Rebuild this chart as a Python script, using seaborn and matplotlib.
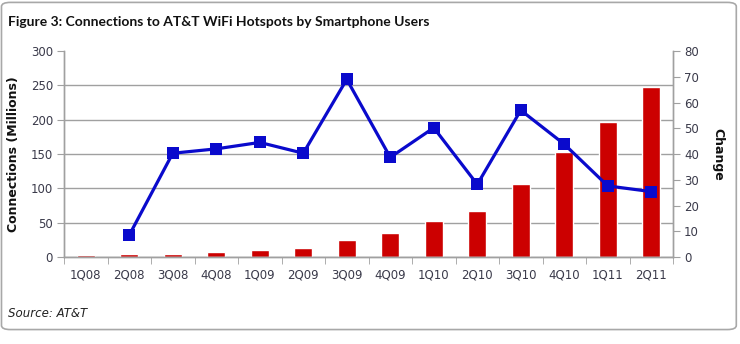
import numpy as np
import pandas as pd
import matplotlib
matplotlib.use("Agg")
import matplotlib.pyplot as plt
from matplotlib.patches import FancyBboxPatch
import seaborn as sns

quarters = ["1Q08", "2Q08", "3Q08", "4Q08", "1Q09", "2Q09", "3Q09", "4Q09",
            "1Q10", "2Q10", "3Q10", "4Q10", "1Q11", "2Q11"]
connections = [2.5, 4, 4, 7, 10, 13.5, 25, 34.5, 53, 67, 106, 153, 196, 248]
change = [np.nan, 8.5, 40.3, 42, 44.5, 40.3, 69, 38.7, 50.2, 28.2, 57, 43.8, 27.6, 25.4]
left_ticks = [0, 50, 100, 150, 200, 250, 300]
right_ticks = [0, 10, 20, 30, 40, 50, 60, 70, 80]

sns.set_style("white")
plt.rcParams["font.family"] = ["DejaVu Sans"]

df = pd.DataFrame({"quarter": quarters, "connections": connections,
                   "change": change, "pos": np.arange(len(quarters))})

fig = plt.figure(figsize=(7.4, 3.44), dpi=100)
ax = fig.add_axes([0.0865, 0.2529, 0.823, 0.5988])

tick_col = "#3a3a4a"
grid_col = "#a0a0a0"

sns.barplot(data=df, x="quarter", y="connections", color="#cc0000",
            saturation=1, width=0.42, ax=ax, zorder=2)
ax.set_ylim(0, 300)
ax.set_yticks(left_ticks)
ax.set_xlim(-0.5, len(quarters) - 0.5)
ax.yaxis.grid(True, color=grid_col, linewidth=1.0, zorder=0)
ax.set_axisbelow(True)
gl = ax.yaxis.get_gridlines()
gl[-1].set_visible(False)
ax.set_xlabel("")
ax.set_ylabel("Connections (Millions)", fontsize=9, fontweight="bold", color="#111111", labelpad=8)
ax.tick_params(axis="y", direction="out", length=5, color=grid_col, labelsize=8.5,
               labelcolor=tick_col, pad=3, left=True)
ax.tick_params(axis="x", which="major", length=0, labelsize=8.5, labelcolor=tick_col, pad=8)
ax.set_xticks(np.arange(-0.5, len(quarters), 1.0), minor=True)
ax.tick_params(axis="x", which="minor", direction="out", length=5, color=grid_col, bottom=True)

ax2 = ax.twinx()
sns.lineplot(data=df, x="pos", y="change", color="#0a0acc", linewidth=2.3,
             marker="s", markersize=8, markeredgewidth=0, ax=ax2)
ax2.set_ylim(0, 80)
ax2.set_yticks(right_ticks)
ax2.set_xlim(-0.5, len(quarters) - 0.5)
ax2.set_xlabel("")
ax2.set_ylabel("Change", fontsize=9, fontweight="bold", color="#111111", rotation=-90, labelpad=18)
ax2.tick_params(axis="y", direction="out", length=5, color=grid_col, labelsize=8.5,
                labelcolor=tick_col, pad=3, right=True)

for a in (ax, ax2):
    a.spines["top"].set_visible(False)
    for s in ("left", "right", "bottom"):
        a.spines[s].set_color(grid_col)
        a.spines[s].set_linewidth(1.0)

fig.text(0.011, 0.935, "Figure 3: Connections to AT&T WiFi Hotspots by Smartphone Users",
         fontsize=10, fontweight="bold", family=["Lato", "DejaVu Sans"], color="#111111",
         va="center", ha="left")
fig.text(0.011, 0.09, "Source: AT&T", fontsize=8.5, style="italic", color="#222222",
         va="center", ha="left")

border = FancyBboxPatch((0.002, 0.042), 0.993, 0.951, boxstyle="round,pad=0,rounding_size=0.012",
                        transform=fig.transFigure, facecolor="none", edgecolor="#a8a8a8",
                        linewidth=1.2, zorder=-1)
fig.patches.append(border)

fig.savefig("out.png", dpi=100)
